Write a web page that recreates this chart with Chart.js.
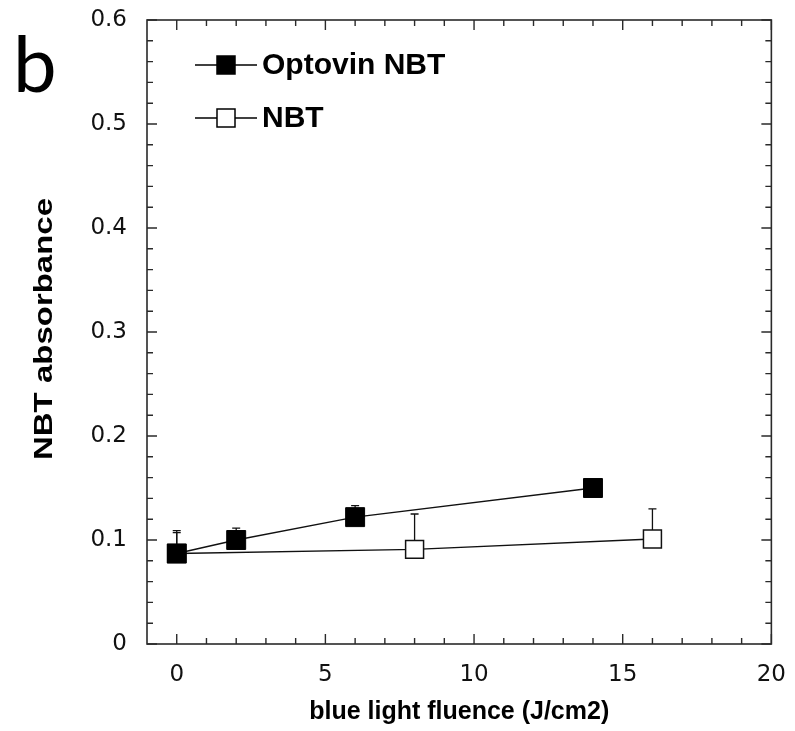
<!DOCTYPE html>
<html>
<head>
<meta charset="utf-8">
<script src="https://cdn.jsdelivr.net/npm/chart.js@4/dist/chart.umd.min.js"></script>
<style>
  body { margin: 0; background: #fff; }
</style>
</head>
<body>
<canvas id="myChart" width="795" height="731"></canvas>
<script>
// data
const optovinX = [0, 2, 6, 14];
const optovinY = [0.087, 0.100, 0.122, 0.150];
const optovinErr = [0.022, 0.0115, 0.011, 0.006];

const nbtX = [0, 8, 16];
const nbtY = [0.087, 0.091, 0.101];
const nbtErr = [0.02, 0.034, 0.029];

const xTickValues = [0, 5, 10, 15, 20];
const yTickValues = [0, 0.1, 0.2, 0.3, 0.4, 0.5, 0.6];
const yTickLabels = ['0', '0.1', '0.2', '0.3', '0.4', '0.5', '0.6'];

const seriesNames = ['Optovin NBT', 'NBT'];

const toPoints = (xs, ys) => xs.map((x, i) => ({ x: x, y: ys[i] }));

// upper error bars, drawn under the markers
const errorBars = {
  id: 'errorBars',
  beforeDatasetsDraw(chart) {
    const ctx = chart.ctx;
    const yScale = chart.scales.y;
    const errs = [optovinErr, nbtErr];
    ctx.save();
    ctx.strokeStyle = '#111';
    ctx.lineWidth = 1.3;
    chart.data.datasets.forEach((ds, di) => {
      const meta = chart.getDatasetMeta(di);
      meta.data.forEach((pt, i) => {
        const top = yScale.getPixelForValue(ds.data[i].y + errs[di][i]);
        ctx.beginPath();
        ctx.moveTo(pt.x, pt.y);
        ctx.lineTo(pt.x, top);
        ctx.moveTo(pt.x - 4, top);
        ctx.lineTo(pt.x + 4, top);
        ctx.stroke();
      });
    });
    ctx.restore();
  }
};

// box frame with inward ticks on all four sides
const frame = {
  id: 'frame',
  afterDraw(chart) {
    const ctx = chart.ctx;
    const a = chart.chartArea;
    const xs = chart.scales.x, ys = chart.scales.y;
    ctx.save();
    ctx.strokeStyle = '#2a2a2a';
    ctx.lineWidth = 1.6;
    ctx.strokeRect(a.left, a.top, a.right - a.left, a.bottom - a.top);
    ctx.lineWidth = 1.4;
    ctx.beginPath();
    for (let v = 0; v <= 20; v += 1) {
      const px = xs.getPixelForValue(v);
      const len = v % 5 === 0 ? 10 : 6;
      ctx.moveTo(px, a.bottom); ctx.lineTo(px, a.bottom - len);
      ctx.moveTo(px, a.top); ctx.lineTo(px, a.top + len);
    }
    for (let k = 0; k <= 30; k++) {
      const py = ys.getPixelForValue(k * 0.02);
      const len = k % 5 === 0 ? 10 : 6;
      ctx.moveTo(a.left, py); ctx.lineTo(a.left + len, py);
      ctx.moveTo(a.right, py); ctx.lineTo(a.right - len, py);
    }
    ctx.stroke();
    ctx.restore();
  }
};

// legend, y title and panel letter
const annotations = {
  id: 'annotations',
  afterDraw(chart) {
    const ctx = chart.ctx;
    ctx.save();
    ctx.fillStyle = '#000';
    ctx.strokeStyle = '#000';

    // legend rows
    const rows = [
      { y: 65, fill: '#000' },
      { y: 118, fill: '#fff' }
    ];
    rows.forEach((r, i) => {
      ctx.lineWidth = 1.3;
      ctx.beginPath();
      ctx.moveTo(195, r.y); ctx.lineTo(257, r.y);
      ctx.stroke();
      ctx.fillStyle = r.fill;
      ctx.fillRect(217, r.y - 9, 18, 18);
      ctx.lineWidth = 1.5;
      ctx.strokeRect(217, r.y - 9, 18, 18);
      ctx.fillStyle = '#000';
      ctx.font = 'bold 30px "Liberation Sans", Arial, sans-serif';
      ctx.textBaseline = 'middle';
      ctx.textAlign = 'left';
      ctx.fillText(seriesNames[i], 262, r.y + 1);
    });

    // y axis title, stretched along its length like the original
    ctx.save();
    ctx.translate(44, 329);
    ctx.rotate(-Math.PI / 2);
    ctx.font = 'bold 25px "Liberation Sans", Arial, sans-serif';
    const t = 'NBT absorbance';
    const w = ctx.measureText(t).width;
    ctx.scale(262 / w, 1);
    ctx.textAlign = 'center';
    ctx.textBaseline = 'middle';
    ctx.fillText(t, 0, 1);
    ctx.restore();

    // panel letter
    ctx.font = '78px Lato, "Noto Sans", sans-serif';
    ctx.textAlign = 'left';
    ctx.textBaseline = 'alphabetic';
    ctx.fillText('b', 13, 92);
    ctx.restore();
  }
};

const ctx = document.getElementById('myChart').getContext('2d');
new Chart(ctx, {
  type: 'scatter',
  data: {
    datasets: [{
      label: seriesNames[0],
      data: toPoints(optovinX, optovinY),
      showLine: true,
      borderColor: '#111',
      borderWidth: 1.4,
      pointStyle: 'rect',
      pointRadius: 13.4,
      pointHoverRadius: 13.4,
      pointBackgroundColor: '#000',
      pointBorderColor: '#000',
      pointBorderWidth: 1
    }, {
      label: seriesNames[1],
      data: toPoints(nbtX, nbtY),
      showLine: true,
      borderColor: '#111',
      borderWidth: 1.4,
      pointStyle: 'rect',
      pointRadius: 12.7,
      pointHoverRadius: 12.7,
      pointBackgroundColor: '#fff',
      pointBorderColor: '#111',
      pointBorderWidth: 1.5
    }]
  },
  options: {
    responsive: false,
    animation: false,
    devicePixelRatio: 1,
    layout: { padding: { top: 20, right: 19, left: 0, bottom: 0 } },
    plugins: {
      legend: { display: false },
      tooltip: { enabled: false }
    },
    scales: {
      x: {
        type: 'linear',
        min: -1,
        max: 20,
        grid: { display: false },
        border: { display: false },
        afterBuildTicks: s => { s.ticks = xTickValues.map(v => ({ value: v })); },
        afterFit: s => { s.height = 87; },
        ticks: {
          padding: 9,
          color: '#111',
          font: { family: '"DejaVu Sans", sans-serif', size: 23 },
          maxRotation: 0
        },
        title: {
          display: true,
          text: 'blue light fluence (J/cm2)',
          color: '#000',
          font: { family: '"Liberation Sans", Arial, sans-serif', size: 25, weight: 'bold' },
          padding: { top: 0, bottom: 4 }
        }
      },
      y: {
        type: 'linear',
        min: 0,
        max: 0.6,
        grid: { display: false },
        border: { display: false },
        afterBuildTicks: s => { s.ticks = yTickValues.map(v => ({ value: v })); },
        afterFit: s => { s.width = 147; s.paddingTop = 0; s.paddingBottom = 0; },
        ticks: {
          padding: 12,
          color: '#111',
          font: { family: '"DejaVu Sans", sans-serif', size: 23 },
          callback: (v, i) => yTickLabels[i]
        }
      }
    }
  },
  plugins: [errorBars, frame, annotations]
});
</script>
</body>
</html>
